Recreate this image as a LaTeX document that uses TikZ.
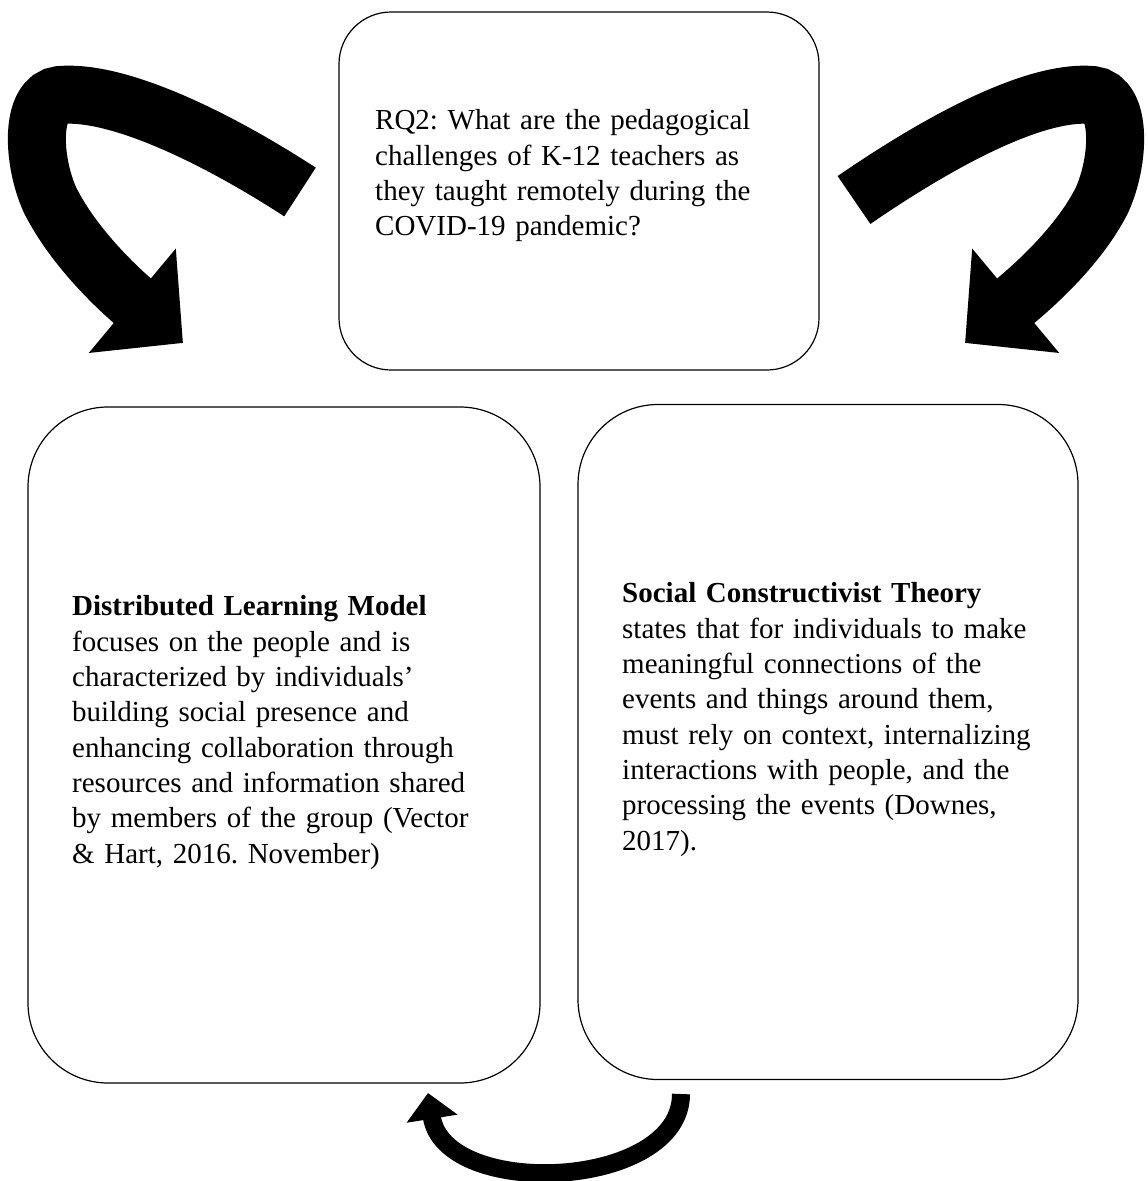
\documentclass[tikz,border=0pt]{standalone}
\usepackage{fontspec}
\setmainfont{Liberation Serif}
\usetikzlibrary{arrows.meta}

\begin{document}
\begin{tikzpicture}[x=1pt, y=-1pt,
		box/.style={draw, rectangle, line width=1.2pt, inner sep=0pt},
		txt/.style={anchor=north west, align=left, inner sep=0pt, text width=#1, font=\fontsize{29}{35.3}\selectfont\frenchspacing},
		bigarrow/.style={line width=#1, line cap=butt}]
				\useasboundingbox (0,0) rectangle (1148,1181);
				\clip (0,0) rectangle (1148,1181);
				\node[box, rounded corners=52pt, minimum width=480pt, minimum height=358pt] (Q) at (579,191) {};
				\node[box, rounded corners=80pt, minimum width=512pt, minimum height=676pt] (L) at (284,745) {};
				\node[box, rounded corners=80pt, minimum width=500pt, minimum height=675pt] (S) at (828,742) {};
				\node[txt=420pt] (Qt) at (375,105) {\strut RQ2: What are the pedagogical\\ challenges of K-12 teachers as\\ they taught remotely during the\\ COVID-19 pandemic?};
				\node[txt=450pt] (Lt) at (72,591) {\strut\textbf{Distributed Learning Model}\\ focuses on the people and is\\ characterized by individuals’\\ building social presence and\\ enhancing collaboration through\\ resources and information shared\\ by members of the group (Vector\\ \& Hart, 2016. November)};
				\node[txt=440pt] (St) at (622,578) {\strut\textbf{Social Constructivist Theory}\\ states that for individuals to make\\ meaningful connections of the\\ events and things around them,\\ must rely on context, internalizing\\ interactions with people, and the\\ processing the events (Downes,\\ 2017).};
				\coordinate (QL) at (300,192);
				\coordinate (LQ) at (183,343);
				\coordinate (QR) at (854,200);
				\coordinate (RQ) at (965,343);
				\coordinate (SL) at (681,1094);
				\coordinate (LS) at (428,1093);
				\draw[bigarrow=58pt, -{Triangle[width=132pt,length=66pt]}] (QL) .. controls (220,140) and (120,90) .. (60,95) .. controls (30,98) and (32,160) .. (50,200) .. controls (75,250) and (123,293) .. (LQ);
				\draw[bigarrow=58pt, -{Triangle[width=132pt,length=66pt]}] (QR) .. controls (934,145) and (1032,90) .. (1092,95) .. controls (1122,98) and (1120,160) .. (1102,200) .. controls (1077,250) and (1025,293) .. (RQ);
				\draw[bigarrow=18pt, -{Triangle[width=50pt,length=26pt]}] (SL) .. controls (681,1190) and (445,1200) .. (LS);
			\end{tikzpicture}
\end{document}
